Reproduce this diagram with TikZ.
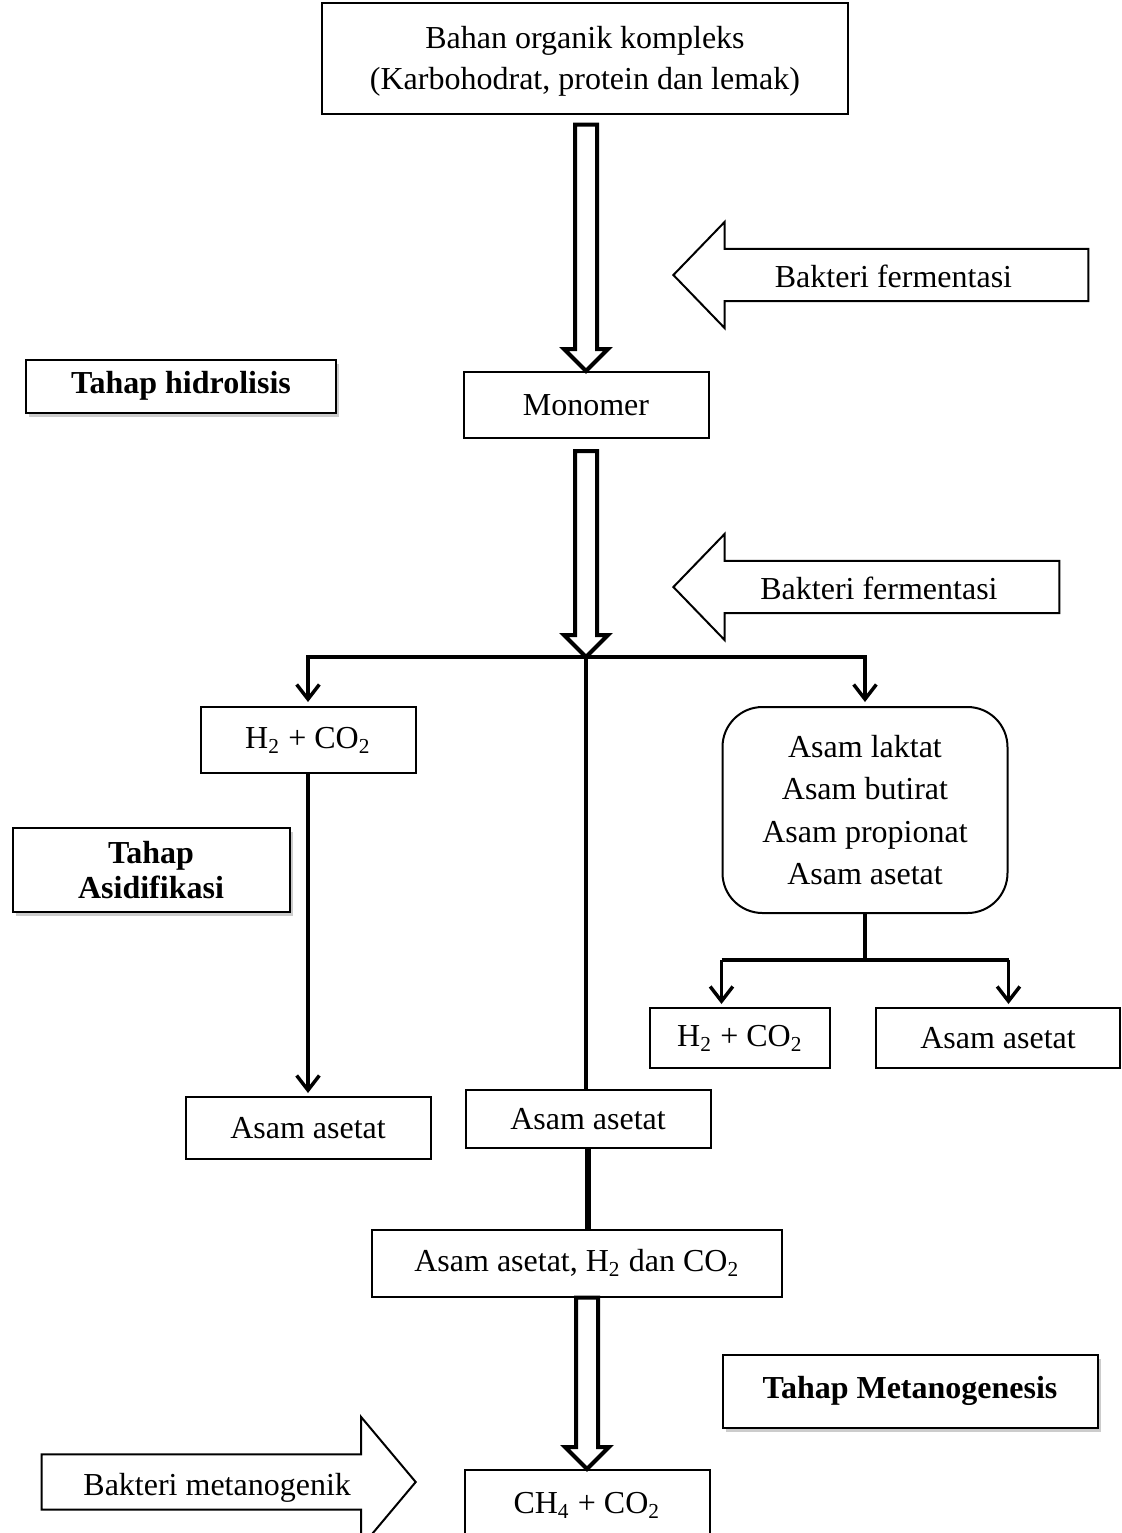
\documentclass[tikz,border=0pt,12pt]{standalone}
\usepackage{fontspec}
\setmainfont{Liberation Serif}
\usetikzlibrary{arrows.meta,calc,shapes.arrows,shadows,positioning}
\newlength\px
\setlength\px{0.375pt}

\begin{document}
\begin{tikzpicture}[x=\px,y=-\px,>={Straight Barb[length=5.5pt,width=8.5pt]},
		box/.style={draw,line width=0.75pt,inner sep=0pt,align=center,font=\linespread{1.05}\selectfont},
		stage/.style={box,font=\bfseries,fill=white,drop shadow={shadow xshift=1.2pt,shadow yshift=-1.5pt,opacity=0.4}},
		flow/.style={line width=1.3pt},
		bigarrow/.style={draw,shape=single arrow,line width=0.75pt,inner xsep=0pt,inner ysep=2pt,text depth=2.9pt,single arrow head indent=0pt,anchor=tip},
		hollow/.style={line width=1.5pt,to path={
			($(\tikztotarget |- \tikztostart)+(-11,0)$) -- ($(\tikztotarget)+(-11,-22)$) -- ($(\tikztotarget)+(-22,-22)$)
			-- (\tikztotarget) -- ($(\tikztotarget)+(22,-22)$) -- ($(\tikztotarget)+(11,-22)$)
			-- ($(\tikztotarget |- \tikztostart)+(11,0)$) -- cycle}}]
		\useasboundingbox (0,0) rectangle (1122,1533);

		% substrates
		\node[box,minimum width=526\px,minimum height=111\px,text depth=-1.5pt] (top) at (585,58) {Bahan organik kompleks\\(Karbohodrat, protein dan lemak)};
		\node[box,minimum width=245\px,minimum height=66\px] (mono) at (586,405) {Monomer};
		\coordinate (split) at (586,657);

		\node[box,minimum width=215\px,minimum height=66\px] (h2l) at (308,740) {H\textsubscript{2} + CO\textsubscript{2}};
		\node[box,rounded corners=15pt,minimum width=285\px,minimum height=206\px,font=\linespread{1.1}\selectfont] (acids) at (865,810) {Asam laktat\\Asam butirat\\Asam propionat\\Asam asetat};
		\coordinate (fork) at (865,960);
		\node[box,minimum width=180\px,minimum height=60\px] (h2r) at (740,1038) {H\textsubscript{2} + CO\textsubscript{2}};
		\node[box,minimum width=244\px,minimum height=60\px] (asr) at (998,1038) {Asam asetat};
		\node[box,minimum width=245\px,minimum height=62\px] (asl) at (308,1128) {Asam asetat};
		\node[box,minimum width=245\px,minimum height=58\px] (asm) at (588,1119) {Asam asetat};
		\node[box,minimum width=410\px,minimum height=67\px] (mix) at (577,1263) {Asam asetat, H\textsubscript{2} dan CO\textsubscript{2}};
		\node[box,minimum width=245\px,minimum height=70\px] (ch4) at (587,1505) {CH\textsubscript{4} + CO\textsubscript{2}};

		% stages
		\node[stage,minimum width=310\px,minimum height=53\px] (s1) at (181,386) {Tahap hidrolisis};
		\node[stage,minimum width=277\px,minimum height=84\px,text depth=-1pt,font=\bfseries\linespread{0.9}\selectfont] (s2) at (151,870) {Tahap\\Asidifikasi};
		\node[stage,minimum width=375\px,minimum height=73\px] (s3) at (910,1391) {Tahap Metanogenesis};

		% bacteria
		\node[bigarrow,shape border rotate=180,text height=11.9pt,minimum height=415\px,single arrow head extend=27\px,single arrow tip angle=92] (bf1) at (672,275) {Bakteri fermentasi};
		\node[bigarrow,shape border rotate=180,text height=11.9pt,minimum height=386\px,single arrow head extend=27\px,single arrow tip angle=92] (bf2) at (672,587) {Bakteri fermentasi};
		\node[bigarrow,text height=13pt,minimum height=374\px,single arrow head extend=37.5\px,single arrow tip angle=100] (bm) at (417,1482) {Bakteri metanogenik};

		% hollow arrows
		\draw[hollow] ($(top.south)+(0,10)$) to (mono.north);
		\draw[hollow] ($(mono.south)+(0,12)$) to (split);
		\draw[hollow] (mix.south) to (ch4.north);

		% thin connectors
		\draw[flow,->,shorten >=4\px] (h2l |- split) -- (split -| acids) -- (acids.north);
		\draw[flow,->,shorten >=4\px] (split) -- (h2l |- split) -- (h2l.north);
		\draw[flow] (split) -- (split |- asm.north);
		\draw[flow,->,shorten >=3\px] (h2l.south) -- (h2l.south |- asl.north);
		\draw[flow] (acids.south) -- (fork);
		\draw[flow] (acids.west |- fork) -- (acids.east |- fork);
		\draw[flow,->,shorten >=3\px] (acids.west |- fork) -- (acids.west |- h2r.north);
		\draw[flow,->,shorten >=3\px] (acids.east |- fork) -- (acids.east |- asr.north);
		\draw[line width=2.2pt] (asm.south) -- (asm.south |- mix.north);
	\end{tikzpicture}
\end{document}
